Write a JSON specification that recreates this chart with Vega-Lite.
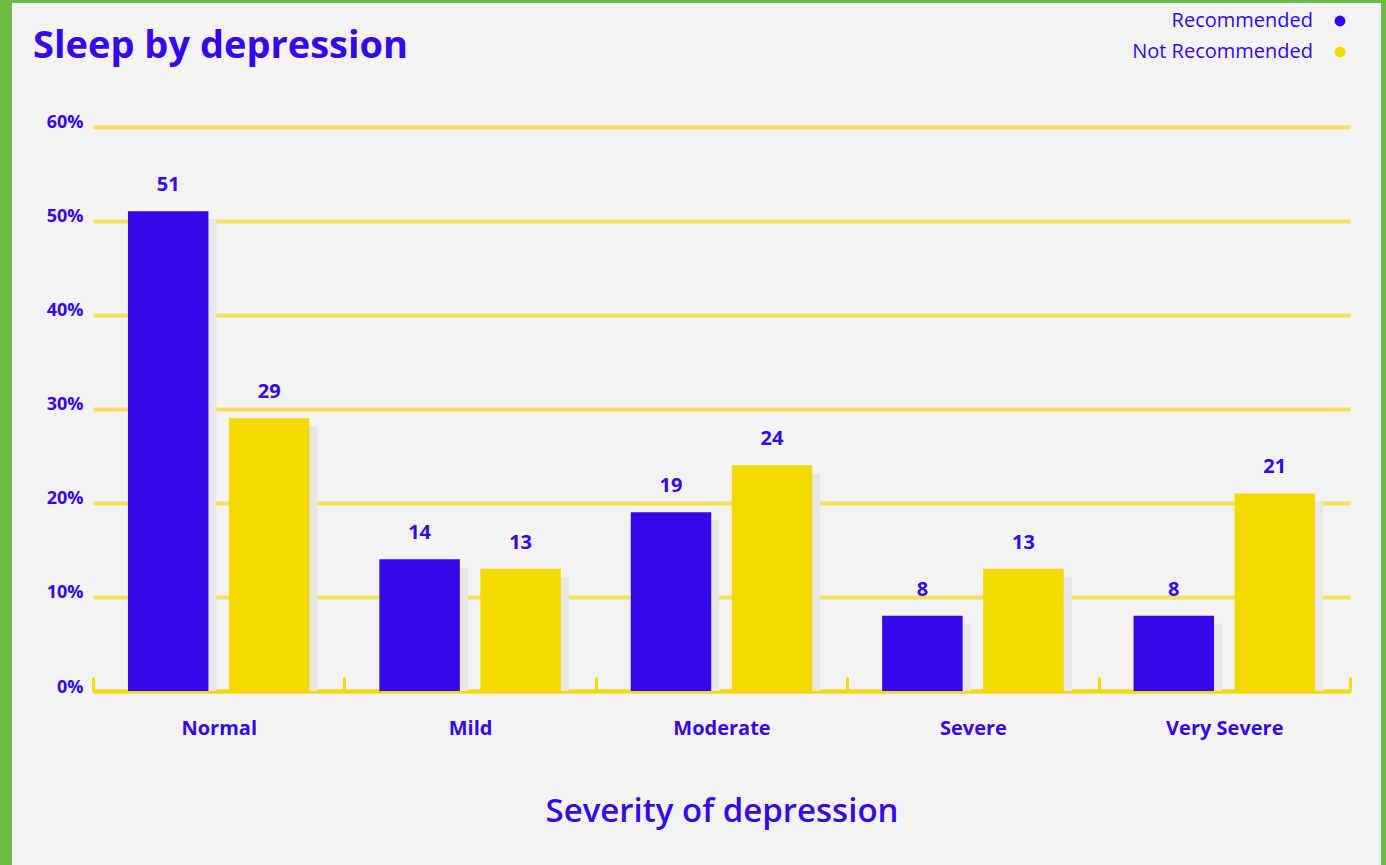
{
  "$schema": "https://vega.github.io/schema/vega-lite/v6.json",
  "width": 1369,
  "height": 862,
  "autosize": "none",
  "padding": {"left": 12, "top": 3, "right": 5, "bottom": 0},
  "background": "#6dbd44",
  "config": {
    "view": {"fill": "#f3f3f3", "stroke": null},
    "font": "Open Sans"
  },
  "title": {
    "text": "Sleep by depression",
    "anchor": "start",
    "frame": "group",
    "orient": "top",
    "offset": -93,
    "dx": 21,
    "baseline": "alphabetic",
    "font": "Open Sans",
    "fontSize": 38,
    "fontWeight": "bold",
    "color": "#3507ea"
  },
  "data": {
    "values": [
      {"severity": "Normal", "group": "Recommended", "value": 51},
      {"severity": "Normal", "group": "Not Recommended", "value": 29},
      {"severity": "Mild", "group": "Recommended", "value": 14},
      {"severity": "Mild", "group": "Not Recommended", "value": 13},
      {"severity": "Moderate", "group": "Recommended", "value": 19},
      {"severity": "Moderate", "group": "Not Recommended", "value": 24},
      {"severity": "Severe", "group": "Recommended", "value": 8},
      {"severity": "Severe", "group": "Not Recommended", "value": 13},
      {"severity": "Very Severe", "group": "Recommended", "value": 8},
      {"severity": "Very Severe", "group": "Not Recommended", "value": 21}
    ]
  },
  "encoding": {
    "x": {
      "field": "severity",
      "type": "nominal",
      "sort": ["Normal", "Mild", "Moderate", "Severe", "Very Severe"],
      "scale": {"range": [81, 1338], "paddingInner": 0, "paddingOuter": 0},
      "axis": {
        "title": "Severity of depression",
        "orient": "bottom",
        "offset": -174,
        "grid": false,
        "labelAngle": 0,
        "domainColor": "#f5d90a",
        "domainWidth": 4,
        "tickBand": "extent",
        "tickColor": "#f5d90a",
        "tickWidth": 3,
        "tickSize": -14,
        "labelPadding": 41,
        "labelFont": "Open Sans",
        "labelFontSize": 20,
        "labelFontWeight": "bold",
        "labelColor": "#3507ea",
        "titleFont": "Open Sans",
        "titleFontSize": 33,
        "titleFontWeight": 600,
        "titleColor": "#3507ea",
        "titlePadding": 57
      }
    },
    "y": {
      "field": "value",
      "type": "quantitative",
      "scale": {"domain": [0, 60], "range": [688, 123.5], "nice": false, "zero": true},
      "axis": {
        "title": null,
        "orient": "left",
        "offset": -81,
        "values": [0, 10, 20, 30, 40, 50, 60],
        "labelExpr": "datum.value + '%'",
        "domain": false,
        "ticks": false,
        "grid": true,
        "gridColor": "#f6e05a",
        "gridWidth": 4,
        "labelPadding": 10,
        "labelOffset": -4,
        "labelFont": "Open Sans",
        "labelFontSize": 18,
        "labelFontWeight": "bold",
        "labelColor": "#3507ea"
      }
    }
  },
  "layer": [
    {
      "mark": {"type": "bar", "color": "#e7e7e7", "yOffset": 8, "y2Offset": 0},
      "encoding": {
        "xOffset": {
          "field": "group",
          "sort": ["Recommended", "Not Recommended"],
          "scale": {"range": [8, 259.4], "paddingInner": 0.203, "paddingOuter": 0.346}
        },
        "y2": {"datum": 0}
      }
    },
    {
      "encoding": {
        "xOffset": {
          "field": "group",
          "sort": ["Recommended", "Not Recommended"],
          "scale": {"paddingInner": 0.203, "paddingOuter": 0.346}
        }
      },
      "layer": [
        {
          "mark": {"type": "bar"},
          "encoding": {
            "color": {
              "field": "group",
              "type": "nominal",
              "scale": {"domain": ["Recommended", "Not Recommended"], "range": ["#3507eb", "#f5da00"]},
              "legend": {
                "title": null,
                "orient": "none",
                "legendX": 1318,
                "legendY": 8,
                "padding": 0,
                "symbolType": "circle",
                "symbolSize": 120,
                "symbolStrokeWidth": 0,
                "labelAlign": "right",
                "labelOffset": -37,
                "labelLimit": 400,
                "labelFont": "Open Sans",
                "labelFontSize": 20,
                "labelColor": "#3507ea",
                "rowPadding": 11
              }
            }
          }
        },
        {
          "mark": {
            "type": "text",
            "dy": -20,
            "baseline": "alphabetic",
            "font": "Open Sans",
            "fontSize": 20,
            "fontWeight": "bold",
            "color": "#3507ea"
          },
          "encoding": {"text": {"field": "value", "type": "quantitative"}}
        }
      ]
    }
  ],
  "resolve": {"scale": {"xOffset": "independent"}}
}
